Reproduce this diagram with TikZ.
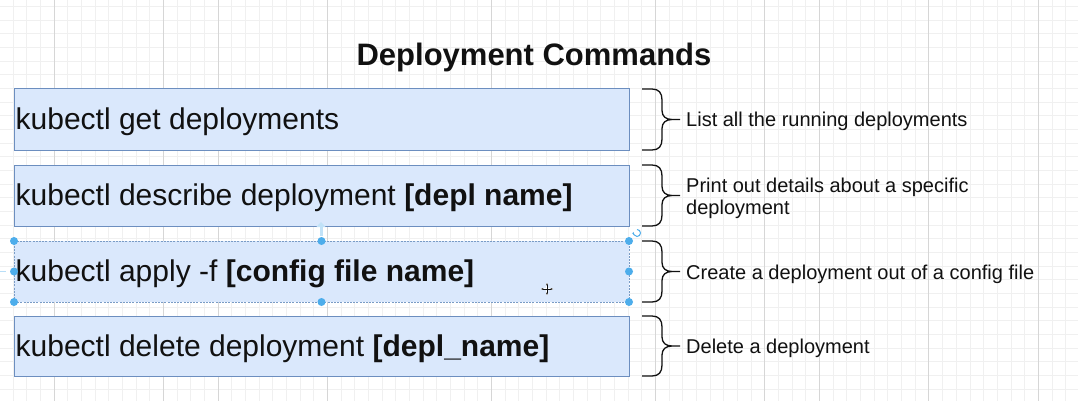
\documentclass[tikz,border=0pt]{standalone}
\usepackage{fontspec}
\setmainfont{Liberation Sans}
\usetikzlibrary{arrows.meta}
\definecolor{boxfill}{HTML}{DAE8FC}
\definecolor{boxline}{HTML}{6C8EBF}
\definecolor{selline}{HTML}{7A9CC6}
\definecolor{gridlight}{HTML}{F0F0F0}
\definecolor{griddark}{HTML}{D6D6D6}
\definecolor{handle}{HTML}{4DADEB}
\definecolor{ink}{HTML}{111111}
\begin{document}
\begin{tikzpicture}[x=1pt,y=-1pt,
  gridminor/.style={gridlight,line width=0.8pt},
  gridmajor/.style={griddark,line width=0.9pt},
  cmdbox/.style={draw=boxline,fill=boxfill,line width=1pt,minimum width=615pt,inner sep=0pt,outer sep=0pt},
  selbox/.style={cmdbox,draw=selline,dash pattern=on 2pt off 1.2pt},
  cmdtext/.style={anchor=base west,inner sep=0pt,text=ink,font=\fontsize{30}{36}\selectfont},
  labeltext/.style={anchor=base west,inner sep=0pt,text=ink,align=left,font=\fontsize{20}{22}\selectfont},
  titletext/.style={anchor=base,inner sep=0pt,text=ink,font=\fontsize{31}{36}\selectfont\bfseries},
  dot/.style={circle,fill=handle,inner sep=0pt,minimum size=8pt},
  bracestroke/.style={draw=ink,line width=1.3pt,line join=round},
  cbrace/.pic={
    \path[bracestroke] (-38,-#1) -- (-28,-#1)
      .. controls (-21,-#1) and (-18,-#1+4) .. (-18,-#1+11) -- (-18,-9)
      .. controls (-18,-3) and (-14,0) .. (-8,0) -- (0,0)
      (-8,0) .. controls (-14,0) and (-18,3) .. (-18,9) -- (-18,#1-11)
      .. controls (-18,#1-4) and (-21,#1) .. (-28,#1) -- (-38,#1);
  }]
\fill[white] (0,0) rectangle (1078,401);
\useasboundingbox (0,0) rectangle (1078,401);

% background grid
\foreach \k in {-3,...,75} {
  \pgfmathsetmacro\gx{54+13.67*\k}
  \draw[gridminor] (\gx,0) -- (\gx,401);
}
\foreach \k in {0,...,29} {
  \pgfmathsetmacro\gy{389-13.67*\k}
  \draw[gridminor] (0,\gy) -- (1078,\gy);
}
\foreach \k in {0,8,12,20,32,44,52,56,64,72} {
  \pgfmathsetmacro\gx{54+13.67*\k}
  \draw[gridmajor] (\gx,0) -- (\gx,401);
}

% title
\node[titletext] (title) at (534,66) {Deployment Commands};

% command boxes
\node[cmdbox,minimum height=61pt] (b1) at (321.5,119.5) {};
\node[cmdbox,minimum height=61pt] (b2) at (321.5,195.5) {};
\node[selbox,minimum height=61pt] (b3) at (321.5,271.5) {};
\node[cmdbox,minimum height=60pt] (b4) at (321.5,346) {};

\node[cmdtext] (t1) at (15.5,129.5) {kubectl get deployments};
\node[cmdtext] (t2) at (15.5,205.5) {kubectl describe deployment \textbf{[depl name]}};
\node[cmdtext] (t3) at (15.5,281.5) {kubectl apply -f \textbf{[config file name]}};
\node[cmdtext] (t4) at (15.5,356) {kubectl delete deployment \textbf{[depl\_name]}};

% braces
\pic (br1) at (680,119.5) {cbrace=30.5};
\pic (br2) at (680,195.5) {cbrace=30.5};
\pic (br3) at (680,271.5) {cbrace=30.5};
\pic (br4) at (680,346) {cbrace=30};

% descriptions
\node[labeltext] (l1) at (686,126.5) {List all the running deployments};
\node[labeltext,anchor=west] (l2) at (686,198) {Print out details about a specific\\deployment};
\node[labeltext] (l3) at (686,279) {Create a deployment out of a config file};
\node[labeltext] (l4) at (686,353) {Delete a deployment};

% selection handles on the third box
\foreach \a in {north west,north,north east,west,east,south west,south,south east}
  \node[dot] at (b3.\a) {};
\draw[handle!35,line width=3pt,-{Triangle[width=9pt,length=5pt]}] (321,236) -- (321,222);
\draw[handle!40,line width=1.5pt] (0,271.5) -- (6,271.5);
\draw[handle,line width=1pt,-{Stealth[length=2.5pt]}] (637,229.5) arc[start angle=-90,end angle=200,radius=3.5];

% move cursor
\begin{scope}[shift={(547,289)}]
  \draw[white,line width=2.4pt] (-6,0) -- (6,0) (0,-6) -- (0,6);
  \draw[ink,line width=0.9pt,{Stealth[length=2.5pt]}-{Stealth[length=2.5pt]}] (-6,0) -- (6,0);
  \draw[ink,line width=0.9pt,{Stealth[length=2.5pt]}-{Stealth[length=2.5pt]}] (0,-6) -- (0,6);
\end{scope}
\end{tikzpicture}
\end{document}
